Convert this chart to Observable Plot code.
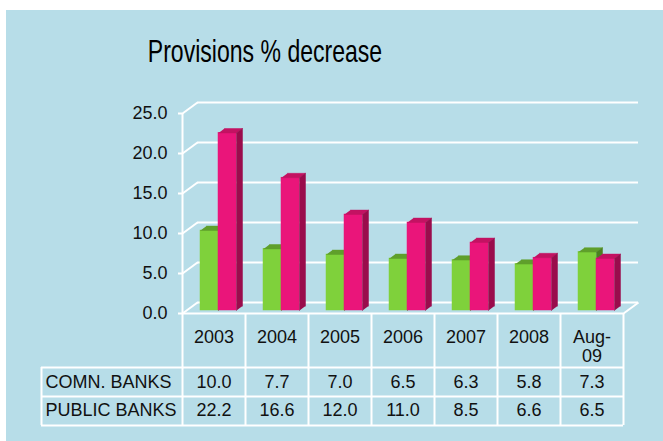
<!DOCTYPE html>
<html>
<head>
<meta charset="utf-8">
<script src="https://cdn.jsdelivr.net/npm/d3@7"></script>
<script src="https://cdn.jsdelivr.net/npm/@observablehq/plot@0.6"></script>
<style>
  html, body { margin: 0; padding: 0; background: #fff; }
  #wrap { position: relative; width: 663px; height: 441px; overflow: hidden; background: #fff; }
  #bg { position: absolute; left: 6px; top: 10px; right: 0; bottom: 0; background: #b7dde8; }
  #title { position: absolute; left: 65px; top: 35px; width: 400px; text-align: center;
           font-family: "Liberation Sans", Arial, sans-serif; font-size: 32px; line-height: 32px;
           color: #000; transform: scaleX(0.72); transform-origin: 50% 50%; white-space: nowrap; }
  #chart { position: absolute; left: 0; top: 90px; }
</style>
</head>
<body>
<div id="wrap">
  <div id="bg"></div>
  <div id="title">Provisions % decrease</div>
  <div id="chart"></div>
</div>
<script>
// ---- data ----
const categories = ["2003", "2004", "2005", "2006", "2007", "2008", "Aug-09"];
const categoryLabels = ["2003", "2004", "2005", "2006", "2007", "2008", "Aug-\n09"];
const seriesNames = ["COMN. BANKS", "PUBLIC BANKS"];
const comnBanks = [10.0, 7.7, 7.0, 6.5, 6.3, 5.8, 7.3];
const publicBanks = [22.2, 16.6, 12.0, 11.0, 8.5, 6.6, 6.5];
const yTicks = [0, 5, 10, 15, 20, 25];

// ---- layout constants (pixels converted to scale units) ----
const PX = 63;          // pixels per category
const PY = 8;           // pixels per value unit
const FRONT = {dx: -4, dy: 3};
const depthX = 15 / PX, depthY = 11 / PY;     // axis wall depth
const barDX = 6 / PX, barDY = 4.4 / PY;       // bar depth
const n = categories.length;
const series = [comnBanks, publicBanks];
const colors = [
  {front: "#7fd13b", top: "#5f9f2b", side: "#4b8220"},
  {front: "#ea157a", top: "#c31262", side: "#9a0c4c"}
];

function barsFor(s) {
  return series[s].map((v, i) => ({
    i, v,
    x1: i + (14 + 18 * s) / PX,
    x2: i + (32 + 18 * s) / PX
  }));
}
function topFaces(s) {
  const pts = [];
  barsFor(s).forEach(b => {
    pts.push({id: b.i, x: b.x1, y: b.v}, {id: b.i, x: b.x2, y: b.v},
             {id: b.i, x: b.x2 + barDX, y: b.v + barDY}, {id: b.i, x: b.x1 + barDX, y: b.v + barDY});
  });
  return pts;
}
function sideFaces(s) {
  const pts = [];
  barsFor(s).forEach(b => {
    pts.push({id: b.i, x: b.x2, y: 0}, {id: b.i, x: b.x2, y: b.v},
             {id: b.i, x: b.x2 + barDX, y: b.v + barDY}, {id: b.i, x: b.x2 + barDX, y: barDY});
  });
  return pts;
}

const TOP = 90;
const H = 441 - TOP;
const yPix = v => 310 - PY * v - TOP;
const xPix = v => 186 + PX * v;

const white = {stroke: "white", strokeWidth: 2};
const labelLeft = (45 - 182) / PX;
const tableLeft = (41 - 182) / PX;
const rowLines = [0, -6.75, -10.375, -14];
const rowY = [-8.59, -12.125];

const marks = [
  // back wall gridlines
  Plot.ruleY(yTicks, {y: d => d + depthY, x1: () => depthX, x2: () => n + depthX, ...FRONT, ...white}),
  // diagonals from front axis to back wall
  Plot.link(yTicks, {x1: () => 0, y1: d => d, x2: () => depthX, y2: d => d + depthY, ...FRONT, ...white}),
  // floor right edge diagonal
  Plot.link([n], {x1: d => d, y1: () => 0, x2: d => d + depthX, y2: () => depthY, ...FRONT, ...white}),
  // front axis line
  Plot.ruleX([0], {y1: 0, y2: yTicks[yTicks.length - 1], ...FRONT, ...white}),
  // ticks
  Plot.ruleY(yTicks, {y: d => d, x1: () => -4 / PX, x2: () => 0, ...FRONT, ...white}),
  // tick labels
  Plot.text(yTicks, {x: () => -15 / PX, y: d => d, text: d => d.toFixed(1), textAnchor: "end",
    fontSize: 18, fill: "#111", ...FRONT}),
  // table vertical lines
  Plot.ruleX(d3.range(n + 1), {x: d => d, y1: 0, y2: -14, ...FRONT, ...white}),
  Plot.ruleX([tableLeft], {x: d => d, y1: -6.75, y2: -14, ...FRONT, ...white}),
  // table horizontal lines
  Plot.ruleY(rowLines, {y: d => d, x1: d => d === 0 ? 0 : tableLeft, x2: () => n, ...FRONT, ...white}),
  // header labels
  Plot.text(categoryLabels, {x: (d, i) => i + 0.5, y: () => -2, text: d => d, lineAnchor: "top",
    lineHeight: 1.06, fontSize: 18, fill: "#111", ...FRONT}),
  // row labels
  Plot.text(seriesNames, {x: () => labelLeft, y: (d, i) => rowY[i], text: d => d, textAnchor: "start",
    fontSize: 18, fill: "#111", ...FRONT}),
  // table values
  ...series.map((vals, s) => Plot.text(vals, {x: (d, i) => i + 0.5, y: () => rowY[s],
    text: d => d.toFixed(1), fontSize: 18, fill: "#111", ...FRONT}))
];

// bars (3D)
[0, 1].forEach(s => {
  const c = colors[s];
  marks.push(
    Plot.rect(barsFor(s), {x1: "x1", x2: "x2", y1: () => 0, y2: "v", fill: c.front, stroke: c.front, strokeWidth: 0.5}),
    Plot.line(topFaces(s), {x: "x", y: "y", z: "id", fill: c.top, stroke: c.top, strokeWidth: 0.5, curve: "linear"}),
    Plot.line(sideFaces(s), {x: "x", y: "y", z: "id", fill: c.side, stroke: c.side, strokeWidth: 0.5, curve: "linear"})
  );
});

const chart = Plot.plot({
  width: 663,
  height: H,
  margin: 0,
  x: {type: "linear", domain: [-3, 8], range: [xPix(-3), xPix(8)], axis: null},
  y: {type: "linear", domain: [-15, 27], range: [yPix(-15), yPix(27)], axis: null},
  style: {background: "transparent", overflow: "visible", fontFamily: "'Liberation Sans', Arial, sans-serif"},
  marks
});
document.getElementById("chart").appendChild(chart);
</script>
</body>
</html>
